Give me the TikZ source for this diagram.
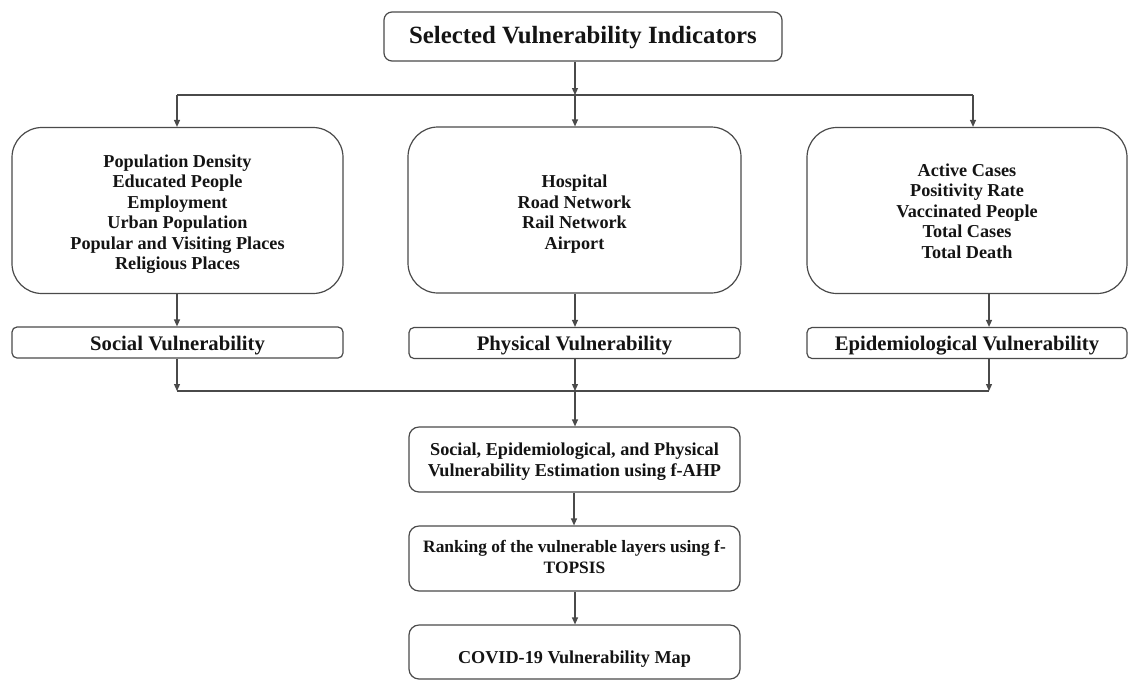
\documentclass[tikz,border=0pt]{standalone}
\usepackage{fontspec}
\setmainfont{Liberation Serif}
\usetikzlibrary{arrows.meta}
\definecolor{linec}{HTML}{4A4A4A}
\definecolor{textc}{HTML}{141414}
\newcommand{\dnlines}[2]{\raisebox{-#1}[\height][\depth]{\begin{tabular}{@{}c@{}}#2\end{tabular}}}
\newcommand{\dnone}[2]{\raisebox{-#1}[\height][\depth]{#2}}
\tikzset{
  box/.style={draw=linec, line width=1.2pt, rectangle, inner sep=0pt, align=center, text=textc, font=\bfseries\fontsize{18.2}{20.5}\selectfont},
  bigbox/.style={box, rounded corners=30pt, minimum height=166pt},
  labbox/.style={box, rounded corners=5pt, minimum height=31pt, font=\bfseries\fontsize{20.7}{24}\selectfont},
  procbox/.style={box, rounded corners=10pt, minimum width=331pt},
  conn/.style={draw=linec, line width=1.2pt},
  arr/.style={conn, -{Triangle[length=7pt,width=6pt]}}
}
\begin{document}
\begin{tikzpicture}[x=1pt,y=-1pt]
\useasboundingbox (0,0) rectangle (1129,689);
\node[box, rounded corners=8pt, minimum width=398pt, minimum height=49pt, font=\bfseries\fontsize{24.8}{28}\selectfont] (top) at (583,36.5) {\dnone{1pt}{Selected Vulnerability Indicators}};
\node[bigbox, minimum width=331pt] (soc) at (177.5,210.5) {\dnlines{4pt}{Population Density\\Educated People\\Employment\\Urban Population\\Popular and Visiting Places\\Religious Places}};
\node[bigbox, minimum width=333pt] (phy) at (574.5,210) {\dnlines{4.5pt}{Hospital\\Road Network\\Rail Network\\Airport}};
\node[bigbox, minimum width=320pt] (epi) at (967,210.5) {\dnlines{2.5pt}{Active Cases\\Positivity Rate\\Vaccinated People\\Total Cases\\Total Death}};
\node[labbox, minimum width=331pt] (socv) at (177.5,342.5) {\dnone{3pt}{Social Vulnerability}};
\node[labbox, minimum width=331pt] (phyv) at (574.5,343) {\dnone{3pt}{Physical Vulnerability}};
\node[labbox, minimum width=320pt] (epiv) at (967,343) {\dnone{3pt}{Epidemiological Vulnerability}};
\node[procbox, minimum height=65pt] (est) at (574.5,459.5) {\dnlines{2.5pt}{Social, Epidemiological, and Physical\\Vulnerability Estimation using f-AHP}};
\node[procbox, minimum height=65pt, font=\bfseries\fontsize{17.4}{20.5}\selectfont] (rank) at (574.5,558.5) {\dnlines{0.5pt}{Ranking of the vulnerable layers using f-\\TOPSIS}};
\node[procbox, minimum height=54pt] (map) at (574.5,652) {\dnone{7pt}{COVID-19 Vulnerability Map}};
% top split
\coordinate (jc) at (575,95);
\coordinate (jl) at (177,95);
\coordinate (jr) at (973,95);
\draw[arr] (top.south -| jc) -- (jc);
\draw[conn] (jl) -- (jr);
\draw[arr] (jl) -- (jl |- soc.north);
\draw[arr] (jc) -- (jc |- phy.north);
\draw[arr] (jr) -- (jr |- epi.north);
% to vulnerability labels
\coordinate (el) at (989,391);
\coordinate (ll) at (177,391);
\coordinate (cl) at (575,391);
\draw[arr] (soc.south -| ll) -- (ll |- socv.north);
\draw[arr] (phy.south -| cl) -- (cl |- phyv.north);
\draw[arr] (epi.south -| el) -- (el |- epiv.north);
% merge
\draw[arr] (socv.south -| ll) -- (ll);
\draw[arr] (epiv.south -| el) -- (el);
\draw[conn] (ll) -- (el);
\draw[arr] (phyv.south -| cl) -- (cl);
\draw[arr] (cl) -- (cl |- est.north);
\draw[arr] (est.south -| 574,0) -- (574,0 |- rank.north);
\draw[arr] (rank.south -| cl) -- (cl |- map.north);
\end{tikzpicture}
\end{document}
